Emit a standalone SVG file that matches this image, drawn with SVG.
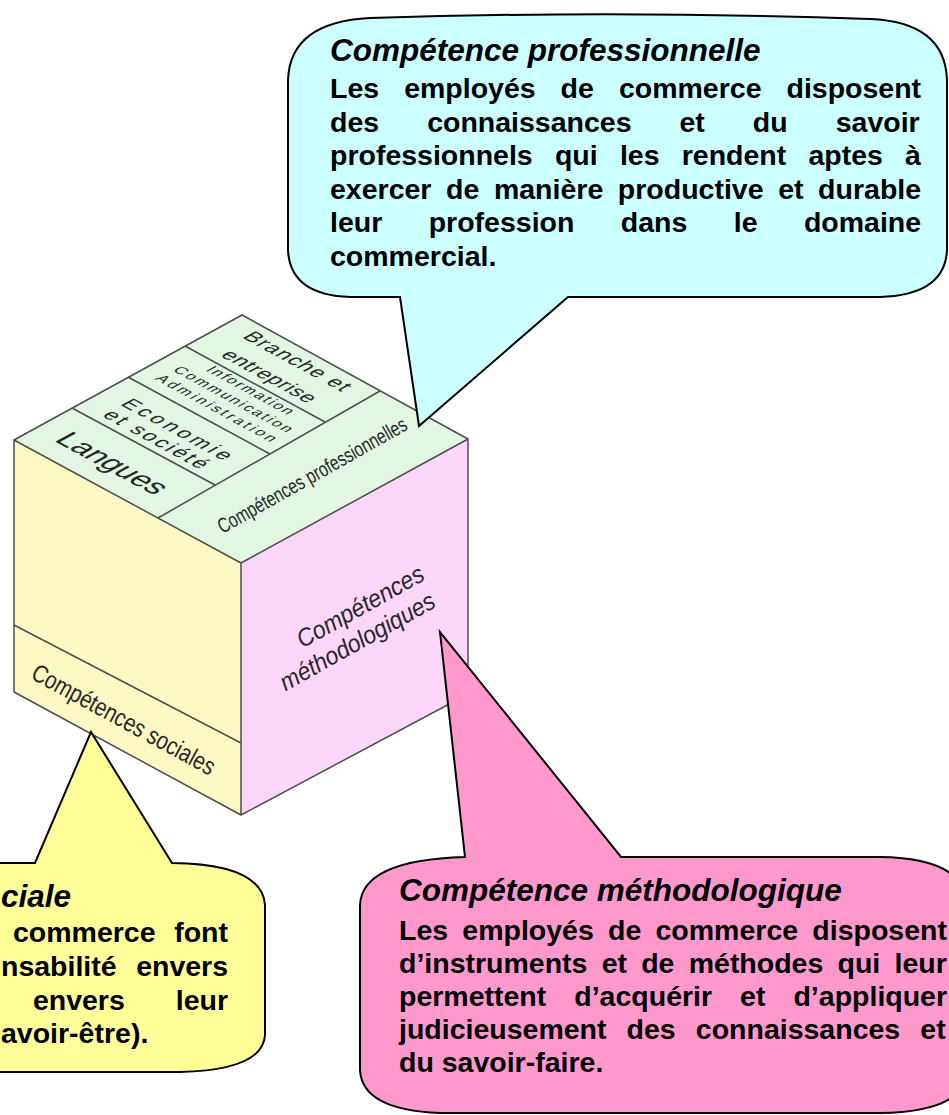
<svg xmlns="http://www.w3.org/2000/svg" width="949" height="1115" viewBox="0 0 949 1115">
<defs>
<style>
.edge{fill:none;stroke:#4d4d4d;stroke-width:1.5;stroke-linejoin:round}
.co{stroke:#000;stroke-width:2;stroke-linejoin:miter}
.cb{font-family:"Liberation Sans",Arial,sans-serif;font-weight:bold;font-size:28.5px;fill:#000}
.ct{font-family:"Liberation Sans",Arial,sans-serif;font-weight:bold;font-style:italic;font-size:31.5px;fill:#000}
.ql{font-family:"Liberation Sans",Arial,sans-serif;fill:#262626;text-anchor:middle;dominant-baseline:central}
</style>
</defs>
<rect width="949" height="1115" fill="#fff"/>

<g id="cube">
<polygon points="14,440 242,315 468,439 241,563" fill="#e3f6e3"/>
<polygon points="14,440 241,563 241,815 14,692" fill="#fcf9c4"/>
<polygon points="241,563 468,439 468,694 241,815" fill="#fcd6fb"/>
<path class="edge" d="M14,440 L242,315 L468,439 L241,563 Z M14,440 L14,692 L241,815 L468,694 L468,439 M241,563 L241,815"/>
<path class="edge" d="M14,625 L241,743 M72,408 L215,485 M128,377 L270,454 M185,346 L325,422 M158,518 L380,391"/>

<text class="ql" font-size="30" transform="matrix(0.878 0.478 -0.878 0.478 113 463)">Langues</text>
<text class="ql" font-size="21" textLength="118" lengthAdjust="spacing" transform="matrix(0.878 0.478 -0.878 0.478 178 429)">Economie</text>
<text class="ql" font-size="21" textLength="112" lengthAdjust="spacing" transform="matrix(0.878 0.478 -0.878 0.478 157 439)">et société</text>
<text class="ql" font-size="15" textLength="94" lengthAdjust="spacing" transform="matrix(0.878 0.478 -0.878 0.478 251 390)">Information</text>
<text class="ql" font-size="15" textLength="130" lengthAdjust="spacing" transform="matrix(0.878 0.478 -0.878 0.478 234 399)">Communication</text>
<text class="ql" font-size="15" textLength="132" lengthAdjust="spacing" transform="matrix(0.878 0.478 -0.878 0.478 217 408)">Administration</text>
<text class="ql" font-size="21" textLength="114" lengthAdjust="spacing" transform="matrix(0.878 0.478 -0.878 0.478 298 361)">Branche et</text>
<text class="ql" font-size="21" textLength="100" lengthAdjust="spacing" transform="matrix(0.878 0.478 -0.878 0.478 270 376)">entreprise</text>

<text class="ql" font-size="21" textLength="214" lengthAdjust="spacingAndGlyphs" transform="translate(312 475) rotate(-29.4)">Compétences professionnelles</text>
<text class="ql" font-size="25" textLength="205" lengthAdjust="spacingAndGlyphs" transform="translate(124 719) rotate(28.5)">Compétences sociales</text>
<text class="ql" font-size="25" font-style="italic" textLength="142" lengthAdjust="spacingAndGlyphs" transform="translate(360 606) rotate(-29.3)">Compétences</text>
<text class="ql" font-size="25" font-style="italic" textLength="174" lengthAdjust="spacingAndGlyphs" transform="translate(357 641) rotate(-29.3)">méthodologiques</text>
</g>

<g id="callout-professionnelle">
<path class="co" fill="#ccffff" d="M400,297 L419,426 L568,297 L880,297 Q945,295 947,250 L947,80 Q945,22 870,19 Q620,10 370,18 Q290,22 288,80 L288,250 Q290,295 350,297 Z"/>
<text class="ct" x="330" y="61">Compétence professionnelle</text>
<text class="cb" x="330" y="98" word-spacing="17.1">Les employés de commerce disposent</text>
<text class="cb" x="330" y="131.5" word-spacing="40.1">des connaissances et du savoir</text>
<text class="cb" x="330" y="165" word-spacing="14.3">professionnels qui les rendent aptes à</text>
<text class="cb" x="330" y="198.5" word-spacing="6.7">exercer de manière productive et durable</text>
<text class="cb" x="330" y="232" word-spacing="38.5">leur profession dans le domaine</text>
<text class="cb" x="330" y="265.5">commercial.</text>
</g>

<g id="callout-sociale">
<path class="co" fill="#ffff99" d="M-10,863 L35,863 L91,732 L172,863 Q262,864 265,905 L265,1035 Q263,1070 180,1072 L-10,1072 Z"/>
<text class="ct" x="1" y="907" font-size="28">ciale</text>
<text class="cb" x="228" y="942" text-anchor="end" word-spacing="10.7">commerce font</text>
<text class="cb" x="1" y="976" word-spacing="11.6">nsabilité envers</text>
<text class="cb" x="228" y="1010" text-anchor="end" word-spacing="43">envers leur</text>
<text class="cb" x="1" y="1043">avoir-être).</text>
</g>

<g id="callout-methodologique">
<path class="co" fill="#ff99cc" d="M465,857 L440,632 L621,857 L880,857 Q965,858 968,905 L968,1070 Q965,1112 880,1113 L440,1113 Q362,1110 360,1070 L360,905 Q362,860 465,857 Z"/>
<text class="ct" x="399" y="901">Compétence méthodologique</text>
<text class="cb" x="399" y="940" word-spacing="6.3">Les employés de commerce disposent</text>
<text class="cb" x="399" y="973" word-spacing="6.3">d’instruments et de méthodes qui leur</text>
<text class="cb" x="399" y="1006" word-spacing="20.1">permettent d’acquérir et d’appliquer</text>
<text class="cb" x="399" y="1039" word-spacing="12.2">judicieusement des connaissances et</text>
<text class="cb" x="399" y="1072">du savoir-faire.</text>
</g>
</svg>
